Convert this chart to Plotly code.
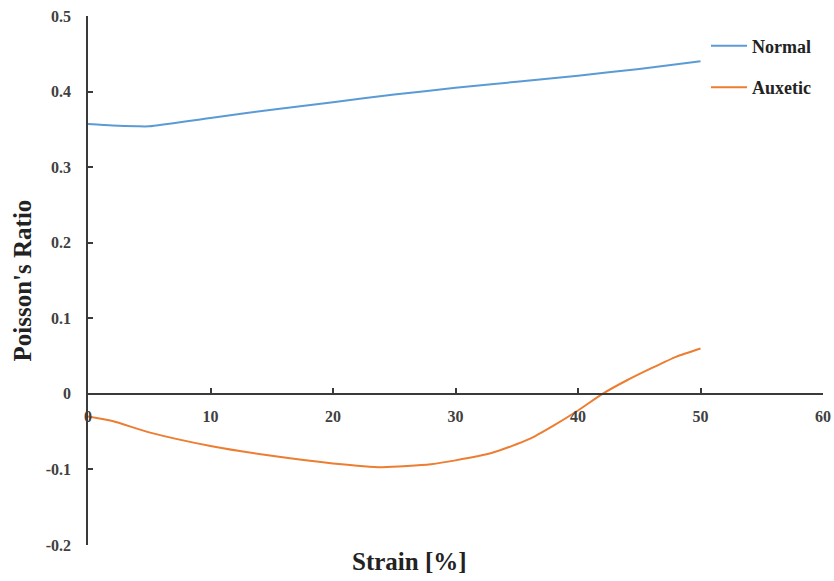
import plotly.graph_objects as go

strain_normal = [0, 2, 4, 5, 10, 15, 20, 25, 30, 35, 40, 45, 50]
poisson_normal = [0.357, 0.355, 0.354, 0.354, 0.365, 0.376, 0.386, 0.396, 0.405, 0.413, 0.421, 0.430, 0.440]

strain_auxetic = [0, 2, 5, 10, 15, 20, 24, 28, 30, 33, 36, 38, 40, 42, 44, 46, 48, 50]
poisson_auxetic = [-0.030, -0.036, -0.051, -0.069, -0.082, -0.092, -0.097, -0.093, -0.088,
                   -0.078, -0.060, -0.042, -0.022, 0.000, 0.018, 0.034, 0.049, 0.060]

x_ticks = [0, 10, 20, 30, 40, 50, 60]
y_ticks = [-0.2, -0.1, 0, 0.1, 0.2, 0.3, 0.4, 0.5]
y_tick_text = ["-0.2", "-0.1", "0", "0.1", "0.2", "0.3", "0.4", "0.5"]

FONT = "Liberation Serif"
AX = "#3a3a3a"

fig = go.Figure()
fig.add_trace(go.Scatter(x=strain_normal, y=poisson_normal, mode="lines", name="Normal",
                         legendgroup="a",
                         line=dict(color="#5B9BD5", width=2, shape="spline", smoothing=0.6)))
fig.add_trace(go.Scatter(x=strain_auxetic, y=poisson_auxetic, mode="lines", name="Auxetic",
                         legendgroup="b",
                         line=dict(color="#ED7D31", width=2, shape="spline", smoothing=0.6)))

fig.update_layout(
    width=834, height=581,
    margin=dict(l=88, r=11, t=16, b=36, autoexpand=False),
    paper_bgcolor="white", plot_bgcolor="white",
    font=dict(family=FONT, size=16, color="#404040"),
    showlegend=True,
    legend=dict(x=(711 - 88 - 5) / 735, y=0.978, xanchor="left", yanchor="top",
                font=dict(family=FONT, size=18, color="#222222", weight="bold"),
                tracegroupgap=15, bgcolor="rgba(0,0,0,0)", itemwidth=36),
    xaxis=dict(range=[0, 60], tickvals=x_ticks, showgrid=False, zeroline=False,
               showline=True, linecolor=AX, linewidth=1.5, automargin=False,
               ticks="inside", ticklen=5, tickcolor=AX, tickwidth=1.5,
               anchor="free", position=2/7, ticklabelstandoff=8,
               ticklabeloverflow="allow",
               tickfont=dict(family=FONT, size=16, color="#404040", weight="bold")),
    yaxis=dict(range=[-0.2, 0.5], tickvals=y_ticks, ticktext=y_tick_text, showgrid=False,
               zeroline=False, showline=True, linecolor=AX, linewidth=1.5, automargin=False,
               ticks="inside", ticklen=5, tickcolor=AX, tickwidth=1.5,
               ticklabelstandoff=12, ticklabeloverflow="allow",
               tickfont=dict(family=FONT, size=16, color="#404040", weight="bold")),
    annotations=[
        dict(text="Strain [%]", xref="paper", yref="paper", x=(409 - 88) / 735, y=-0.032,
             xanchor="center", yanchor="middle", showarrow=False,
             font=dict(family=FONT, size=25, color="#222222", weight="bold")),
        dict(text="Poisson's Ratio", xref="paper", yref="paper", x=-(88 - 22) / 735, y=0.5,
             xanchor="center", yanchor="middle", showarrow=False, textangle=-90,
             font=dict(family=FONT, size=25, color="#222222", weight="bold")),
    ],
)

fig.write_html("out.html", config={"displayModeBar": False},
               post_script="document.body.style.margin='0';")
